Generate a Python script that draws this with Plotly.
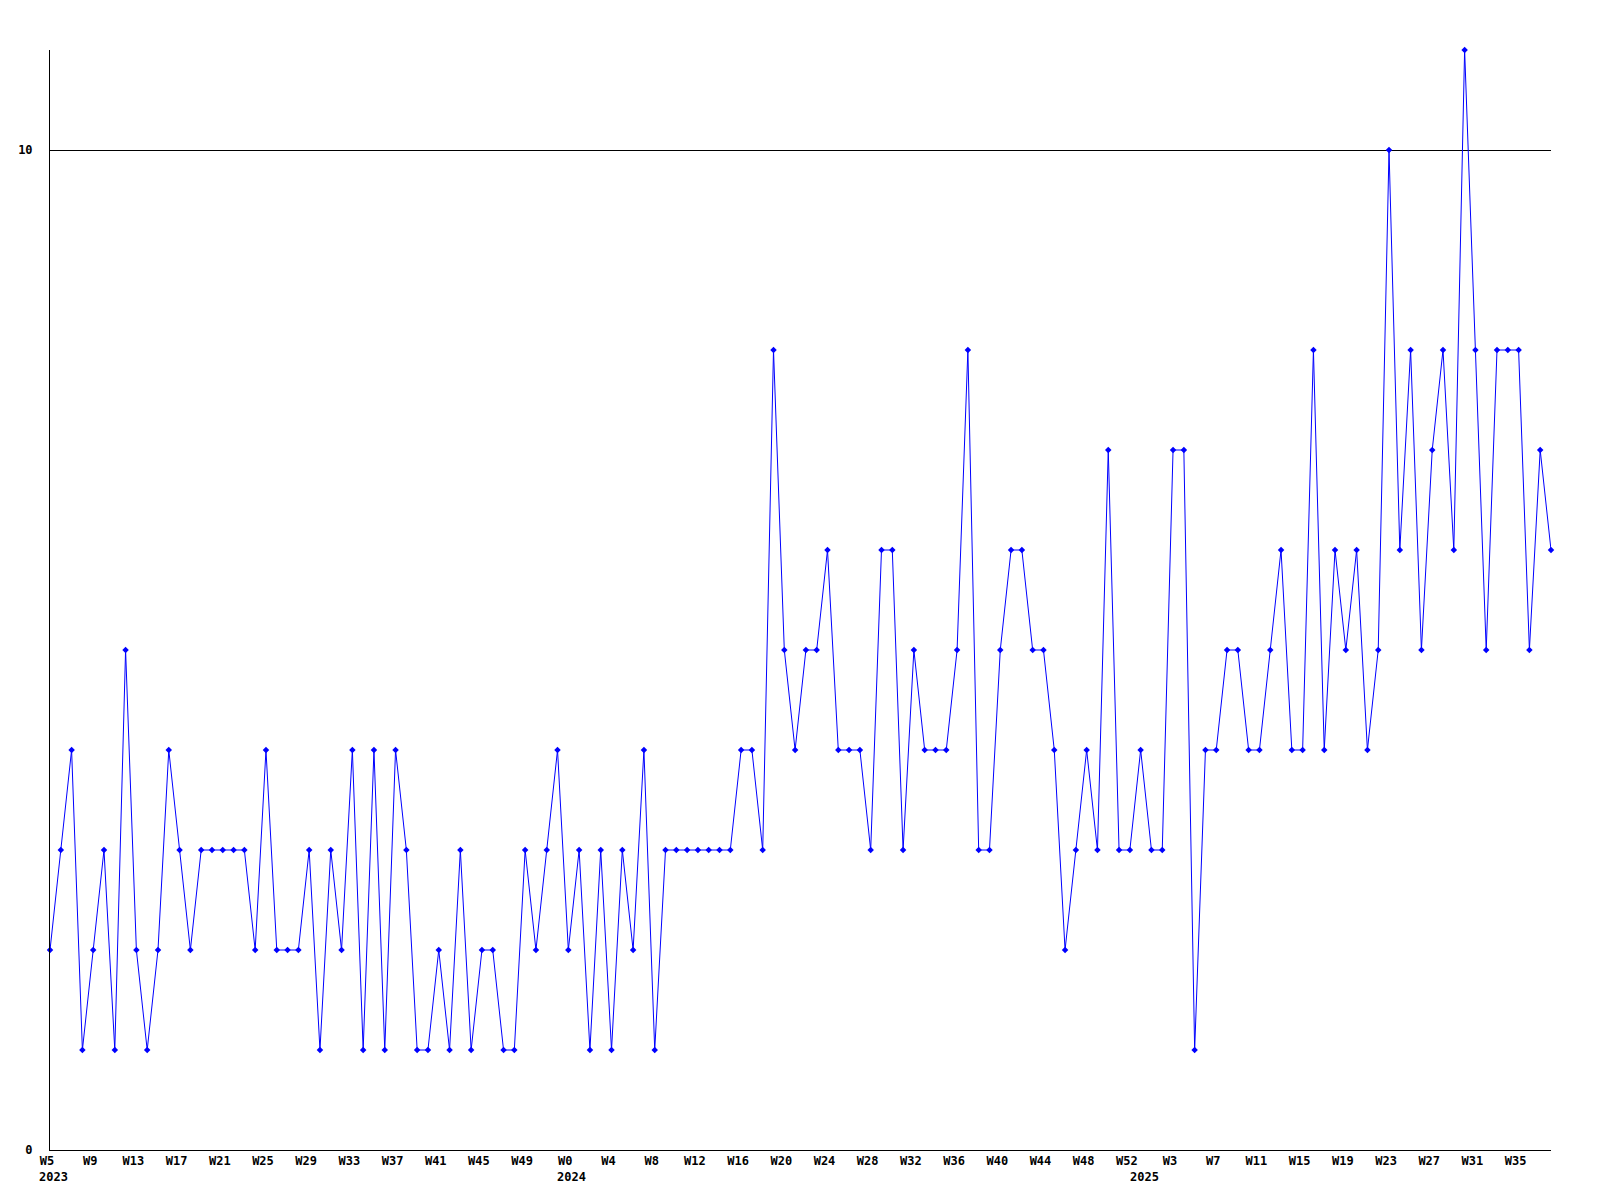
import plotly.graph_objects as go

# weekly counts, one per week from 2023 W5 to 2025 W38
values = [
    2, 3, 4, 1, 2, 3, 1, 5, 2, 1,
    2, 4, 3, 2, 3, 3, 3, 3, 3, 2,
    4, 2, 2, 2, 3, 1, 3, 2, 4, 1,
    4, 1, 4, 3, 1, 1, 2, 1, 3, 1,
    2, 2, 1, 1, 3, 2, 3, 4, 2, 3,
    1, 3, 1, 3, 2, 4, 1, 3, 3, 3,
    3, 3, 3, 3, 4, 4, 3, 8, 5, 4,
    5, 5, 6, 4, 4, 4, 3, 6, 6, 3,
    5, 4, 4, 4, 5, 8, 3, 3, 5, 6,
    6, 5, 5, 4, 2, 3, 4, 3, 7, 3,
    3, 4, 3, 3, 7, 7, 1, 4, 4, 5,
    5, 4, 4, 5, 6, 4, 4, 8, 4, 6,
    5, 6, 4, 5, 10, 6, 8, 5, 7, 8,
    6, 11, 8, 5, 8, 8, 8, 5, 7, 6,
]

# (year, first week, last week) covered by the series
year_segments = [(2023, 5, 52), (2024, 0, 52), (2025, 0, 38)]

y_tick_vals = [0, 10]

week_labels = []
year_starts = []
for year, first_week, last_week in year_segments:
    year_starts.append((len(week_labels), str(year)))
    for week in range(first_week, last_week + 1):
        week_labels.append(f"W{week}")

x_idx = list(range(len(values)))
tick_vals = x_idx[::4]
tick_text = [week_labels[i] for i in tick_vals]

LABEL_FONT = {"family": "DejaVu Sans Mono", "size": 12, "color": "#000000", "weight": "bold"}

fig = go.Figure()
fig.add_trace(
    go.Scatter(
        x=x_idx,
        y=values,
        mode="lines+markers",
        line={"color": "#0000FF", "width": 1},
        marker={"symbol": "diamond", "size": 5, "color": "#0000FF"},
        cliponaxis=False,
        text=week_labels,
        hovertemplate="%{text}: %{y}<extra></extra>",
    )
)

for idx, label in year_starts:
    fig.add_annotation(
        x=idx,
        y=0,
        xref="x",
        yref="paper",
        text=label,
        showarrow=False,
        xanchor="left",
        yanchor="top",
        xshift=-13,
        yshift=-18,
        font=LABEL_FONT,
    )

# page body adds 8px, so the margins are offset to keep the plot area in place
fig.update_layout(
    template="none",
    width=1600,
    height=1200,
    paper_bgcolor="#FFFFFF",
    plot_bgcolor="#FFFFFF",
    showlegend=False,
    margin={"l": 42, "r": 57, "t": 42, "b": 58},
)
fig.update_xaxes(
    range=[0, len(values) - 1],
    tickvals=tick_vals,
    ticktext=tick_text,
    tickfont=LABEL_FONT,
    ticks="",
    ticklabelshift=-3,
    showgrid=False,
    zeroline=False,
    showline=True,
    linecolor="#000000",
    linewidth=1,
)
fig.update_yaxes(
    range=[0, 11],
    tickvals=y_tick_vals,
    ticktext=[str(v) for v in y_tick_vals],
    tickfont=LABEL_FONT,
    ticks="",
    ticklabelstandoff=14,
    showgrid=True,
    gridcolor="#000000",
    gridwidth=1,
    zeroline=False,
    showline=True,
    linecolor="#000000",
    linewidth=1,
)

fig.write_html("out.html")
